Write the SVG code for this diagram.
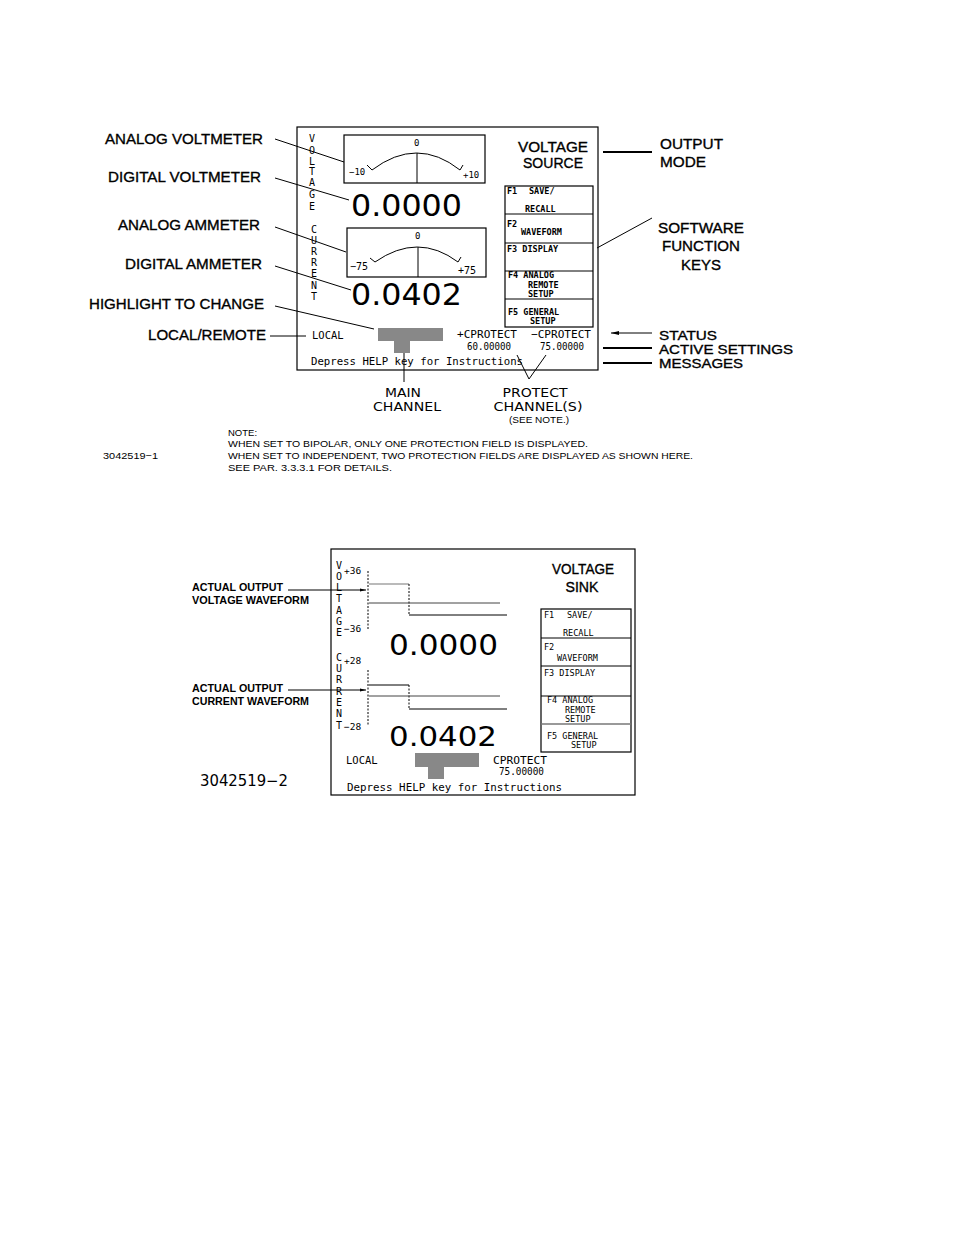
<svg xmlns="http://www.w3.org/2000/svg" width="954" height="1235" viewBox="0 0 954 1235">
<style>
.lbl{font-family:"Liberation Sans",Arial,sans-serif;font-size:15px;fill:#000;stroke:#000;stroke-width:0.35}
.lbls{font-family:"Liberation Sans",Arial,sans-serif;font-size:13.5px;fill:#000;stroke:#000;stroke-width:0.35}
.lblb{font-family:"Liberation Sans",Arial,sans-serif;font-size:10.5px;font-weight:bold;fill:#000}
.scr{font-family:"DejaVu Sans Mono","Liberation Mono",monospace;font-size:10.5px;fill:#000}
.fk{font-family:"DejaVu Sans Mono","Liberation Mono",monospace;font-size:8.5px;font-weight:bold;fill:#000}
.fk2{font-family:"DejaVu Sans Mono","Liberation Mono",monospace;font-size:8.5px;fill:#000}
.vt{font-family:"DejaVu Sans Mono","Liberation Mono",monospace;font-size:10px;fill:#000;text-anchor:middle}
.big{font-family:"DejaVu Sans","Liberation Sans",sans-serif;font-size:31px;fill:#000}
.thin{font-family:"DejaVu Sans","Liberation Sans",sans-serif;font-size:12.5px;fill:#000;text-anchor:middle}
.note{font-family:"Liberation Sans",Arial,sans-serif;font-size:9.5px;fill:#000}
.box{fill:none;stroke:#000;stroke-width:1.2}
.ln{fill:none;stroke:#000;stroke-width:1}
.tk{fill:none;stroke:#000;stroke-width:2}
.hl{fill:#888}
</style>
<defs>
<marker id="arrL" markerWidth="8" markerHeight="6" refX="0" refY="3" orient="auto" markerUnits="userSpaceOnUse"><path d="M8,1 L0,3 L8,5 Z" fill="#000"/></marker>
<marker id="arrR" markerWidth="6" markerHeight="4" refX="6" refY="2" orient="auto" markerUnits="userSpaceOnUse"><path d="M0,0.5 L6,2 L0,3.5 Z" fill="#000"/></marker>
</defs>
<rect width="954" height="1235" fill="#fff"/>

<!-- ===== Diagram 1 ===== -->
<g id="screen1">
<rect class="box" x="297" y="127" width="301" height="243"/>
<g id="vlabel1">
<text class="vt" x="312" y="142">V</text><text class="vt" x="312" y="154">O</text><text class="vt" x="312" y="165">L</text><text class="vt" x="312" y="175">T</text><text class="vt" x="312" y="186">A</text><text class="vt" x="312" y="198">G</text><text class="vt" x="312" y="210">E</text>
</g>
<g id="clabel1">
<text class="vt" x="314" y="233">C</text><text class="vt" x="314" y="244">U</text><text class="vt" x="314" y="255">R</text><text class="vt" x="314" y="266">R</text><text class="vt" x="314" y="277">E</text><text class="vt" x="314" y="289">N</text><text class="vt" x="314" y="300">T</text>
</g>
</g>
<g id="analog-voltmeter">
<rect class="box" x="344" y="135" width="141" height="48"/>
<path class="ln" d="M372,170 Q417,136 460,170"/>
<path class="ln" d="M367,165 L372,170 M460,170 L463,165"/>
<line class="ln" x1="417" y1="153" x2="417" y2="183"/>
<text class="fk2" x="414" y="146" style="font-size:9px">0</text>
<text class="fk2" x="349" y="175" style="font-size:9px">−10</text>
<text class="fk2" x="463" y="178" style="font-size:9px">+10</text>
</g>
<g id="digital-voltmeter"><text class="big" x="351" y="216" textLength="111" lengthAdjust="spacingAndGlyphs">0.0000</text></g>
<g id="analog-ammeter">
<rect class="box" x="347" y="228" width="139" height="49"/>
<path class="ln" d="M375,262 Q418,232 458,262"/>
<path class="ln" d="M370,258 L375,262 M458,262 L461,257"/>
<line class="ln" x1="418" y1="247" x2="418" y2="277"/>
<text class="fk2" x="415" y="239" style="font-size:9px">0</text>
<text class="fk2" x="350" y="270" style="font-size:10px">−75</text>
<text class="fk2" x="458" y="274" style="font-size:10px">+75</text>
</g>
<g id="digital-ammeter"><text class="big" x="351" y="305" textLength="111" lengthAdjust="spacingAndGlyphs">0.0402</text></g>
<g id="mode1">
<text class="lbl" x="553" y="152" text-anchor="middle" textLength="70" lengthAdjust="spacingAndGlyphs">VOLTAGE</text>
<text class="lbl" x="553" y="168" text-anchor="middle" textLength="60" lengthAdjust="spacingAndGlyphs">SOURCE</text>
</g>
<g id="fkeys1">
<rect class="box" x="505" y="186" width="88" height="141"/>
<line class="ln" x1="505" y1="214" x2="593" y2="214"/>
<line class="ln" x1="505" y1="243" x2="593" y2="243"/>
<line class="ln" x1="505" y1="271" x2="593" y2="271"/>
<line class="ln" x1="505" y1="299" x2="593" y2="299"/>
<text class="fk" x="507" y="194">F1</text><text class="fk" x="529" y="194">SAVE/</text>
<text class="fk" x="525" y="212">RECALL</text>
<text class="fk" x="507" y="227">F2</text><text class="fk" x="521" y="235">WAVEFORM</text>
<text class="fk" x="507" y="252">F3 DISPLAY</text>
<text class="fk" x="508" y="278">F4 ANALOG</text>
<text class="fk" x="528" y="288">REMOTE</text>
<text class="fk" x="528" y="297">SETUP</text>
<text class="fk" x="508" y="315">F5 GENERAL</text>
<text class="fk" x="530" y="324">SETUP</text>
</g>
<g id="status1">
<text class="scr" x="312" y="339">LOCAL</text>
<rect class="hl" x="378" y="328" width="65" height="13"/>
<rect class="hl" x="394" y="341" width="16" height="12"/>
<text class="scr" x="457" y="338" textLength="60" lengthAdjust="spacingAndGlyphs">+CPROTECT</text>
<text class="scr" x="531" y="338" textLength="60" lengthAdjust="spacingAndGlyphs">−CPROTECT</text>
<text class="scr" x="467" y="350" textLength="44" lengthAdjust="spacingAndGlyphs">60.00000</text>
<text class="scr" x="540" y="350" textLength="44" lengthAdjust="spacingAndGlyphs">75.00000</text>
<text class="scr" x="311" y="365" textLength="212" lengthAdjust="spacingAndGlyphs">Depress HELP key for Instructions</text>
</g>

<g id="labels1">
<text class="lbl" x="105" y="144" textLength="158" lengthAdjust="spacingAndGlyphs">ANALOG VOLTMETER</text>
<text class="lbl" x="108" y="182" textLength="153" lengthAdjust="spacingAndGlyphs">DIGITAL VOLTMETER</text>
<text class="lbl" x="118" y="230" textLength="142" lengthAdjust="spacingAndGlyphs">ANALOG AMMETER</text>
<text class="lbl" x="125" y="269" textLength="137" lengthAdjust="spacingAndGlyphs">DIGITAL AMMETER</text>
<text class="lbl" x="89" y="309" textLength="175" lengthAdjust="spacingAndGlyphs">HIGHLIGHT TO CHANGE</text>
<text class="lbl" x="148" y="340" textLength="118" lengthAdjust="spacingAndGlyphs">LOCAL/REMOTE</text>
<text class="lbl" x="660" y="149" textLength="63" lengthAdjust="spacingAndGlyphs">OUTPUT</text>
<text class="lbl" x="660" y="167" textLength="46" lengthAdjust="spacingAndGlyphs">MODE</text>
<text class="lbl" x="701" y="233" text-anchor="middle" textLength="86" lengthAdjust="spacingAndGlyphs">SOFTWARE</text>
<text class="lbl" x="701" y="251" text-anchor="middle" textLength="78" lengthAdjust="spacingAndGlyphs">FUNCTION</text>
<text class="lbl" x="701" y="270" text-anchor="middle" textLength="40" lengthAdjust="spacingAndGlyphs">KEYS</text>
<text class="lbls" x="659" y="340" textLength="58" lengthAdjust="spacingAndGlyphs">STATUS</text>
<text class="lbls" x="659" y="354" textLength="134" lengthAdjust="spacingAndGlyphs">ACTIVE SETTINGS</text>
<text class="lbls" x="659" y="368" textLength="84" lengthAdjust="spacingAndGlyphs">MESSAGES</text>
<text class="thin" x="403" y="397" textLength="36" lengthAdjust="spacingAndGlyphs">MAIN</text>
<text class="thin" x="407" y="411" textLength="68" lengthAdjust="spacingAndGlyphs">CHANNEL</text>
<text class="thin" x="535" y="397" textLength="65" lengthAdjust="spacingAndGlyphs">PROTECT</text>
<text class="thin" x="538" y="411" textLength="89" lengthAdjust="spacingAndGlyphs">CHANNEL(S)</text>
<text class="note" x="539" y="423" text-anchor="middle" textLength="60" lengthAdjust="spacingAndGlyphs">(SEE NOTE.)</text>
</g>
<g id="note1">
<text class="note" x="228" y="436">NOTE:</text>
<text class="note" x="228" y="447" textLength="360" lengthAdjust="spacingAndGlyphs">WHEN SET TO BIPOLAR, ONLY ONE PROTECTION FIELD IS DISPLAYED.</text>
<text class="note" x="228" y="459" textLength="465" lengthAdjust="spacingAndGlyphs">WHEN SET TO INDEPENDENT, TWO PROTECTION FIELDS ARE DISPLAYED AS SHOWN HERE.</text>
<text class="note" x="228" y="471" textLength="164" lengthAdjust="spacingAndGlyphs">SEE PAR. 3.3.3.1 FOR DETAILS.</text>
<text class="note" x="103" y="459" textLength="55" lengthAdjust="spacingAndGlyphs">3042519−1</text>
</g>
<g id="connectors1">
<line class="ln" x1="275" y1="139" x2="344" y2="162"/>
<line class="ln" x1="275" y1="178" x2="349" y2="200"/>
<line class="ln" x1="275" y1="227" x2="346" y2="252"/>
<line class="ln" x1="275" y1="266" x2="351" y2="290"/>
<line class="ln" x1="275" y1="306" x2="374" y2="329"/>
<line class="ln" x1="270" y1="336" x2="306" y2="336"/>
<line class="tk" x1="603" y1="152" x2="652" y2="152"/>
<line class="ln" x1="597" y1="248" x2="652" y2="218"/>
<line class="ln" x1="611" y1="333" x2="652" y2="333" marker-start="url(#arrL)"/>
<line class="tk" x1="603" y1="348" x2="652" y2="348"/>
<line class="tk" x1="603" y1="363" x2="652" y2="363"/>
<line class="ln" x1="404" y1="353" x2="404" y2="382"/>
<line class="ln" x1="517" y1="355" x2="529" y2="379"/>
<line class="ln" x1="546" y1="355" x2="529" y2="379"/>
</g>

<!-- ===== Diagram 2 ===== -->
<g id="screen2">
<rect class="box" x="331" y="549" width="304" height="246"/>
<g id="vlabel2">
<text class="vt" x="339" y="569">V</text><text class="vt" x="339" y="580">O</text><text class="vt" x="339" y="591">L</text><text class="vt" x="339" y="602">T</text><text class="vt" x="339" y="614">A</text><text class="vt" x="339" y="625">G</text><text class="vt" x="339" y="636">E</text>
</g>
<g id="clabel2">
<text class="vt" x="339" y="661">C</text><text class="vt" x="339" y="672">U</text><text class="vt" x="339" y="683">R</text><text class="vt" x="339" y="695">R</text><text class="vt" x="339" y="706">E</text><text class="vt" x="339" y="717">N</text><text class="vt" x="339" y="729">T</text>
</g>
<text class="fk2" x="344" y="574" style="font-size:9.5px">+36</text>
<text class="fk2" x="344" y="632" style="font-size:9.5px">−36</text>
<text class="fk2" x="344" y="664" style="font-size:9.5px">+28</text>
<text class="fk2" x="344" y="730" style="font-size:9.5px">−28</text>
</g>
<g id="voltage-waveform">
<line class="ln" x1="368" y1="571" x2="368" y2="630" stroke-dasharray="2,1.5"/>
<polyline points="369,584 409,584" fill="none" stroke="#777" stroke-width="1.2"/>
<line class="ln" x1="409" y1="584" x2="409" y2="615" stroke-dasharray="2,1.5"/>
<line class="ln" x1="409" y1="615" x2="507" y2="615"/>
<line x1="369" y1="603" x2="500" y2="603" stroke="#444" stroke-width="1"/>
</g>
<g id="current-waveform">
<line class="ln" x1="368" y1="670" x2="368" y2="726" stroke-dasharray="2,1.5"/>
<line class="ln" x1="369" y1="685" x2="409" y2="685"/>
<line class="ln" x1="409" y1="685" x2="409" y2="709" stroke-dasharray="2,1.5"/>
<line class="ln" x1="409" y1="709" x2="507" y2="709"/>
<line x1="369" y1="696" x2="500" y2="696" stroke="#444" stroke-width="1"/>
</g>
<g id="digital-voltmeter2"><text class="big" x="389" y="655" style="font-size:28px" textLength="109" lengthAdjust="spacingAndGlyphs">0.0000</text></g>
<g id="digital-ammeter2"><text class="big" x="389" y="746" style="font-size:27px" textLength="108" lengthAdjust="spacingAndGlyphs">0.0402</text></g>
<g id="mode2">
<text class="lbl" x="583" y="574" text-anchor="middle" style="font-size:14px" textLength="62" lengthAdjust="spacingAndGlyphs">VOLTAGE</text>
<text class="lbl" x="582" y="592" text-anchor="middle" style="font-size:14px" textLength="33" lengthAdjust="spacingAndGlyphs">SINK</text>
</g>
<g id="fkeys2">
<rect class="box" x="541" y="609" width="90" height="143"/>
<line class="ln" x1="541" y1="638" x2="631" y2="638"/>
<line class="ln" x1="541" y1="666" x2="631" y2="666"/>
<line class="ln" x1="541" y1="696" x2="631" y2="696"/>
<line x1="541" y1="724" x2="631" y2="724" stroke="#777" stroke-width="1.5"/>
<text class="fk2" x="544" y="618">F1</text><text class="fk2" x="567" y="618">SAVE/</text>
<text class="fk2" x="563" y="636">RECALL</text>
<text class="fk2" x="544" y="650">F2</text><text class="fk2" x="557" y="661">WAVEFORM</text>
<text class="fk2" x="544" y="676">F3 DISPLAY</text>
<text class="fk2" x="547" y="703">F4 ANALOG</text>
<text class="fk2" x="565" y="713">REMOTE</text>
<text class="fk2" x="565" y="722">SETUP</text>
<text class="fk2" x="547" y="739">F5 GENERAL</text>
<text class="fk2" x="571" y="748">SETUP</text>
</g>
<g id="status2">
<text class="scr" x="346" y="764">LOCAL</text>
<rect class="hl" x="415" y="753" width="64" height="14"/>
<rect class="hl" x="428" y="767" width="16" height="12"/>
<text class="scr" x="493" y="764" textLength="54" lengthAdjust="spacingAndGlyphs">CPROTECT</text>
<text class="scr" x="499" y="775" textLength="45" lengthAdjust="spacingAndGlyphs">75.00000</text>
<text class="scr" x="347" y="791" textLength="215" lengthAdjust="spacingAndGlyphs">Depress HELP key for Instructions</text>
</g>
<g id="labels2">
<text class="lblb" x="192" y="591" textLength="91" lengthAdjust="spacingAndGlyphs">ACTUAL OUTPUT</text>
<text class="lblb" x="192" y="604" textLength="117" lengthAdjust="spacingAndGlyphs">VOLTAGE WAVEFORM</text>
<text class="lblb" x="192" y="692" textLength="91" lengthAdjust="spacingAndGlyphs">ACTUAL OUTPUT</text>
<text class="lblb" x="192" y="705" textLength="117" lengthAdjust="spacingAndGlyphs">CURRENT WAVEFORM</text>
<text class="thin" x="244" y="786" style="font-size:15px;text-anchor:middle" textLength="88" lengthAdjust="spacingAndGlyphs">3042519−2</text>
</g>
<g id="connectors2">
<line class="ln" x1="288" y1="590" x2="366" y2="590" marker-end="url(#arrR)"/>
<line class="ln" x1="288" y1="690" x2="366" y2="690" marker-end="url(#arrR)"/>
</g>
</svg>
